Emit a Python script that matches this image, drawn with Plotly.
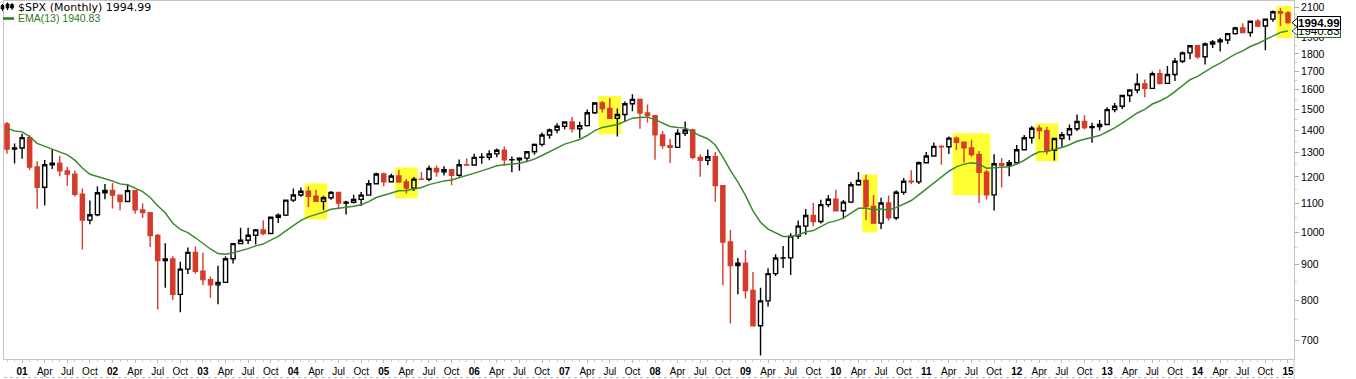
import numpy as np
import pandas as pd
import plotly.graph_objects as go

# ---------------- data (SPX monthly, Nov 2000 - Jan 2015) ----------------
months = pd.date_range("2000-11-01", periods=171, freq="MS")

opens = [
    1429.4, 1315.2,
    1320.3, 1366.0, 1239.9, 1160.3, 1249.5, 1255.8, 1224.4, 1211.2, 1133.6, 1040.9, 1059.8, 1139.5,
    1148.1, 1130.2, 1106.7, 1147.4, 1076.9, 1067.1, 989.8, 911.6, 916.1, 815.3, 885.8, 936.3,
    879.8, 855.7, 841.2, 848.2, 916.9, 963.6, 974.5, 990.3, 1008.0, 996.0, 1050.7, 1058.2,
    1112.0, 1131.1, 1144.9, 1126.2, 1107.3, 1120.7, 1140.8, 1101.7, 1104.2, 1114.6, 1130.2, 1173.8,
    1211.9, 1181.3, 1203.6, 1180.6, 1156.9, 1191.5, 1191.3, 1234.2, 1220.3, 1228.8, 1207.0, 1249.5,
    1248.3, 1280.1, 1280.7, 1294.9, 1310.6, 1270.1, 1270.2, 1276.7, 1303.8, 1335.9, 1377.9, 1400.6,
    1418.3, 1438.2, 1406.8, 1420.9, 1482.4, 1530.6, 1503.4, 1455.3, 1474.0, 1526.8, 1549.4, 1481.1,
    1468.4, 1378.6, 1330.6, 1322.7, 1385.6, 1400.4, 1280.0, 1267.4, 1282.8, 1166.4, 968.8, 896.2,
    903.3, 825.9, 735.1, 797.9, 872.8, 919.1, 919.3, 987.5, 1020.6, 1057.1, 1036.2, 1095.6,
    1115.1, 1073.9, 1104.5, 1169.4, 1186.7, 1089.4, 1030.7, 1101.6, 1049.3, 1141.2, 1183.3, 1180.6,
    1257.6, 1286.1, 1327.2, 1325.8, 1363.6, 1345.2, 1320.6, 1292.3, 1219.0, 1131.4, 1253.3, 1247.0,
    1257.6, 1312.4, 1365.7, 1408.5, 1397.9, 1310.3, 1362.2, 1379.3, 1406.6, 1440.7, 1412.2, 1416.2,
    1426.2, 1498.1, 1514.7, 1569.2, 1597.6, 1630.7, 1606.3, 1685.7, 1633.0, 1681.6, 1756.5, 1805.8,
    1848.4, 1782.6, 1859.5, 1872.3, 1884.0, 1923.6, 1960.2, 1930.7, 2003.4, 1972.3, 2018.1, 2067.6,
    2058.9,
]
highs = [
    1438.5, 1340.0,
    1383.4, 1376.4, 1263.5, 1269.3, 1316.0, 1286.6, 1239.8, 1226.3, 1155.4, 1110.6, 1163.4, 1173.0,
    1176.6, 1130.2, 1173.0, 1147.8, 1099.3, 1070.0, 994.5, 965.0, 924.0, 907.4, 951.0, 954.3,
    935.1, 864.6, 895.9, 924.2, 965.4, 1015.3, 1015.4, 1011.0, 1040.3, 1053.8, 1063.7, 1112.6,
    1155.4, 1159.0, 1163.2, 1150.6, 1127.7, 1146.3, 1140.8, 1109.7, 1131.5, 1142.1, 1188.5, 1217.3,
    1217.8, 1212.4, 1229.1, 1191.9, 1199.6, 1219.6, 1246.6, 1245.9, 1243.1, 1233.3, 1270.6, 1275.8,
    1294.9, 1297.6, 1310.9, 1318.2, 1326.7, 1284.0, 1280.4, 1306.7, 1340.3, 1389.5, 1407.9, 1431.8,
    1441.6, 1461.6, 1438.9, 1498.0, 1535.6, 1540.6, 1555.9, 1503.9, 1538.7, 1576.1, 1552.8, 1523.6,
    1471.8, 1396.0, 1359.7, 1404.6, 1440.2, 1406.3, 1292.2, 1313.2, 1303.0, 1167.0, 1007.5, 918.9,
    943.9, 877.9, 833.0, 888.7, 930.2, 956.2, 996.7, 1039.5, 1080.2, 1101.4, 1113.7, 1130.4,
    1150.5, 1112.4, 1180.2, 1219.8, 1208.9, 1131.2, 1121.0, 1129.2, 1148.9, 1196.1, 1227.1, 1262.6,
    1302.7, 1344.1, 1332.3, 1370.6, 1370.6, 1345.2, 1356.5, 1307.4, 1229.3, 1292.7, 1277.6, 1269.4,
    1333.5, 1378.0, 1419.2, 1422.4, 1415.3, 1363.5, 1391.7, 1426.7, 1474.5, 1471.0, 1434.3, 1448.0,
    1509.9, 1530.9, 1570.3, 1597.6, 1687.2, 1654.2, 1698.8, 1709.7, 1729.9, 1775.2, 1813.6, 1849.4,
    1850.8, 1867.9, 1884.0, 1897.3, 1924.0, 1968.2, 1991.4, 2005.0, 2019.3, 2018.2, 2075.8, 2093.6,
    2072.4,
]
lows = [
    1294.9, 1254.1,
    1274.6, 1228.3, 1081.2, 1092.0, 1232.0, 1203.0, 1165.5, 1124.9, 944.8, 1026.8, 1054.3, 1114.9,
    1081.7, 1074.4, 1106.7, 1063.5, 1048.0, 952.9, 775.7, 833.4, 800.2, 768.6, 872.1, 872.6,
    840.3, 806.3, 788.9, 847.9, 902.8, 963.6, 962.1, 960.8, 990.4, 996.0, 1031.2, 1055.0,
    1105.1, 1124.4, 1087.2, 1105.0, 1076.3, 1113.3, 1078.8, 1060.7, 1099.2, 1090.2, 1127.6, 1173.8,
    1163.8, 1180.0, 1176.9, 1136.2, 1146.2, 1188.3, 1183.6, 1201.1, 1205.4, 1168.2, 1201.1, 1246.6,
    1245.7, 1253.6, 1268.4, 1280.7, 1245.3, 1219.3, 1224.5, 1261.3, 1290.9, 1327.1, 1361.0, 1385.9,
    1404.0, 1389.4, 1364.0, 1416.4, 1476.7, 1484.2, 1454.3, 1370.6, 1439.5, 1489.6, 1406.1, 1435.6,
    1270.1, 1316.8, 1257.0, 1320.0, 1373.1, 1272.0, 1200.4, 1247.5, 1106.4, 839.8, 741.0, 815.7,
    804.2, 734.5, 666.8, 783.3, 866.1, 888.9, 869.3, 978.5, 992.0, 1020.0, 1029.4, 1085.9,
    1071.6, 1044.5, 1101.0, 1166.0, 1040.8, 1028.3, 1010.9, 1039.7, 1041.2, 1131.9, 1173.0, 1173.0,
    1257.6, 1282.9, 1249.1, 1294.7, 1311.8, 1258.1, 1282.9, 1101.5, 1114.2, 1074.8, 1158.7, 1202.4,
    1257.6, 1312.4, 1340.0, 1357.4, 1292.0, 1266.7, 1325.4, 1354.7, 1396.6, 1403.3, 1343.4, 1398.1,
    1426.2, 1485.0, 1501.5, 1536.0, 1581.3, 1560.3, 1604.6, 1627.5, 1633.0, 1646.5, 1746.2, 1768.0,
    1770.5, 1737.9, 1834.4, 1814.4, 1859.8, 1916.0, 1930.7, 1904.8, 1964.0, 1820.7, 2001.0, 1972.6,
    1988.1,
]
closes = [
    1315.2, 1320.3,
    1366.0, 1239.9, 1160.3, 1249.5, 1255.8, 1224.4, 1211.2, 1133.6, 1040.9, 1059.8, 1139.5, 1148.1,
    1130.2, 1106.7, 1147.4, 1076.9, 1067.1, 989.8, 911.6, 916.1, 815.3, 885.8, 936.3, 879.8,
    855.7, 841.2, 848.2, 916.9, 963.6, 974.5, 990.3, 1008.0, 996.0, 1050.7, 1058.2, 1112.0,
    1131.1, 1144.9, 1126.2, 1107.3, 1120.7, 1140.8, 1101.7, 1104.2, 1114.6, 1130.2, 1173.8, 1211.9,
    1181.3, 1203.6, 1180.6, 1156.9, 1191.5, 1191.3, 1234.2, 1220.3, 1228.8, 1207.0, 1249.5, 1248.3,
    1280.1, 1280.7, 1294.9, 1310.6, 1270.1, 1270.2, 1276.7, 1303.8, 1335.9, 1377.9, 1400.6, 1418.3,
    1438.2, 1406.8, 1420.9, 1482.4, 1530.6, 1503.4, 1455.3, 1474.0, 1526.8, 1549.4, 1481.1, 1468.4,
    1378.6, 1330.6, 1322.7, 1385.6, 1400.4, 1280.0, 1267.4, 1282.8, 1166.4, 968.8, 896.2, 903.3,
    825.9, 735.1, 797.9, 872.8, 919.1, 919.3, 987.5, 1020.6, 1057.1, 1036.2, 1095.6, 1115.1,
    1073.9, 1104.5, 1169.4, 1186.7, 1089.4, 1030.7, 1101.6, 1049.3, 1141.2, 1183.3, 1180.6, 1257.6,
    1286.1, 1327.2, 1325.8, 1363.6, 1345.2, 1320.6, 1292.3, 1219.0, 1131.4, 1253.3, 1247.0, 1257.6,
    1312.4, 1365.7, 1408.5, 1397.9, 1310.3, 1362.2, 1379.3, 1406.6, 1440.7, 1412.2, 1416.2, 1426.2,
    1498.1, 1514.7, 1569.2, 1597.6, 1630.7, 1606.3, 1685.7, 1633.0, 1681.6, 1756.5, 1805.8, 1848.4,
    1782.6, 1859.5, 1872.3, 1884.0, 1923.6, 1960.2, 1930.7, 2003.4, 1972.3, 2018.1, 2067.6, 2058.9,
    1994.99,
]

EMA_PERIOD = 13
EMA_SEED = 1425.0          # EMA level just before the first bar
LAST_CLOSE_TXT = "1994.99"
LAST_EMA_TXT = "1940.83"

y_ticks = [700, 800, 900, 1000, 1100, 1200, 1300, 1400, 1500, 1600, 1700, 1800, 1900, 2000, 2100]
month_abbr = {1: None, 4: "Apr", 7: "Jul", 10: "Oct"}

# highlighted periods: (first month, last month, low, high)
highlights = [
    ("2004-03", "2004-05", 1043, 1175),
    ("2005-03", "2005-05", 1118, 1239),
    ("2007-06", "2007-08", 1381, 1566),
    ("2010-05", "2010-06", 1000, 1210),
    ("2011-05", "2011-09", 1130, 1386),
    ("2012-04", "2012-06", 1264, 1432),
    ("2014-12", "2015-01", 1896, 2107),
]

# ---------------- derived ----------------
k = 2.0 / (EMA_PERIOD + 1)
ema = []
prev = EMA_SEED
for c in closes:
    prev = prev + k * (c - prev)
    ema.append(prev)

x = list(range(len(months)))
idx = {m.strftime("%Y-%m"): i for i, m in enumerate(months)}

tickvals, ticktext = [], []
for i, m in enumerate(months):
    if m.month in month_abbr:
        tickvals.append(i)
        ticktext.append(f"<b>{m.strftime('%y')}</b>" if m.month == 1 else month_abbr[m.month])

# ---------------- figure geometry ----------------
W, H = 1356, 379
ML, MR, MT, MB = 4, 62, 1, 20
PW, PH = W - ML - MR, H - MT - MB
Y_LO, Y_HI = 659.0, 2142.0
X_LO, X_HI = -0.4, 170.8

def xp(px):
    return (px - ML) / PW

def yp(py):
    return (H - MB - py) / PH

def yprice(p):
    return (np.log10(p) - np.log10(Y_LO)) / (np.log10(Y_HI) - np.log10(Y_LO))

RED = "#d63b2c"
GREEN = "#3a8a2e"

fig = go.Figure()

for s, e, lo, hi in highlights:
    fig.add_shape(type="rect", xref="x", yref="y",
                  x0=idx[s] - 0.5, x1=min(idx[e] + 0.5, X_HI), y0=lo, y1=hi,
                  fillcolor="#ffff33", line_width=0, layer="below")

fig.add_trace(go.Candlestick(
    x=x, open=opens, high=highs, low=lows, close=closes,
    increasing=dict(line=dict(color="#000000", width=1.4), fillcolor="rgba(0,0,0,0)"),
    decreasing=dict(line=dict(color=RED, width=1.4), fillcolor=RED),
    whiskerwidth=0, showlegend=False, hoverinfo="skip",
))

fig.add_trace(go.Scatter(x=x, y=ema, mode="lines",
                         line=dict(color=GREEN, width=1.5),
                         showlegend=False, hoverinfo="skip"))

fig.update_layout(
    width=W, height=H,
    margin=dict(l=ML, r=MR, t=MT, b=MB, pad=0),
    paper_bgcolor="white", plot_bgcolor="white",
    boxgap=0.22,
    showlegend=False,
    hovermode=False,
    xaxis=dict(
        range=[X_LO, X_HI], rangeslider=dict(visible=False),
        tickmode="array", tickvals=tickvals, ticktext=ticktext,
        ticks="outside", ticklen=3, tickcolor="#bbbbbb", tickwidth=1,
        minor=dict(tickmode="linear", tick0=0, dtick=1, ticks="outside",
                   ticklen=2, tickcolor="#cccccc"),
        showline=True, linecolor="#c4c4c4", linewidth=1, mirror=True,
        showgrid=False, zeroline=False,
        tickfont=dict(family="Liberation Sans, Arial", size=10, color="#000000"),
    ),
    yaxis=dict(
        type="log", side="right",
        range=[np.log10(Y_LO), np.log10(Y_HI)],
        tickmode="array", tickvals=y_ticks, ticktext=[str(v) for v in y_ticks],
        ticks="outside", ticklen=4, tickcolor="#aaaaaa", tickwidth=1,
        minor=dict(tickmode="array", tickvals=[v + 50 for v in y_ticks[:-1]],
                   ticks="outside", ticklen=2, tickcolor="#cccccc"),
        showline=True, linecolor="#c4c4c4", linewidth=1, mirror=True,
        showgrid=False, zeroline=False,
        tickfont=dict(family="Liberation Sans, Arial", size=10.5, color="#000000"),
    ),
)

# bottom date strip border
fig.add_shape(type="line", xref="paper", yref="paper", x0=0, x1=1,
              y0=yp(377.5), y1=yp(377.5), line=dict(color="#bbbbbb", width=1, dash="dot"))
fig.add_shape(type="line", xref="paper", yref="paper", x0=1, x1=1,
              y0=0, y1=yp(379), line=dict(color="#c4c4c4", width=1))

# legend: icon + title
icon = [(2.5, 4, 11, 5.5, 9), (7.5, 2.5, 10, 4, 8), (12, 3, 10, 4.5, 8)]
for cx, wt, wb, bt, bb in icon:
    fig.add_shape(type="line", xref="paper", yref="paper", x0=xp(cx), x1=xp(cx),
                  y0=yp(wt), y1=yp(wb), line=dict(color="#000000", width=1))
    fig.add_shape(type="rect", xref="paper", yref="paper", x0=xp(cx - 1.3), x1=xp(cx + 1.3),
                  y0=yp(bt), y1=yp(bb), line=dict(color="#000000", width=1), fillcolor="#000000")
fig.add_annotation(xref="paper", yref="paper", x=xp(16), y=yp(7.5), xanchor="left", yanchor="middle",
                   text=f"$SPX (Monthly) {LAST_CLOSE_TXT}", showarrow=False,
                   font=dict(family="DejaVu Sans, Verdana", size=11, color="#000000"))
fig.add_shape(type="line", xref="paper", yref="paper", x0=xp(3), x1=xp(14),
              y0=yp(18.5), y1=yp(18.5), line=dict(color="#2e7a22", width=2.5))
fig.add_annotation(xref="paper", yref="paper", x=xp(16), y=yp(18.5), xanchor="left", yanchor="middle",
                   text=f"EMA({EMA_PERIOD}) {LAST_EMA_TXT}", showarrow=False,
                   font=dict(family="Liberation Sans, Arial", size=10.5, color="#2e7a22"))

# price tags on the right axis
def tag(price, text, border, bold):
    y0 = yprice(price)
    fig.add_annotation(xref="paper", yref="paper", x=xp(1297), y=y0,
                       xanchor="left", yanchor="middle", showarrow=False,
                       text=f"<b>{text}</b>" if bold else text,
                       font=dict(family="Liberation Sans, Arial", size=11.5, color="#000000"),
                       bgcolor="#ffffff", bordercolor=border, borderwidth=1, borderpad=0)
    dy = 4.5 / PH
    fig.add_shape(type="path", xref="paper", yref="paper",
                  path=f"M {xp(1292)},{y0} L {xp(1297.5)},{y0 + dy} L {xp(1297.5)},{y0 - dy} Z",
                  fillcolor="#ffffff", line=dict(color=border, width=1))

tag(1940.83, LAST_EMA_TXT, "#2e6b1e", False)
tag(1994.99, LAST_CLOSE_TXT, "#000000", True)

fig.write_html(
    "out.html",
    config={"displayModeBar": False, "staticPlot": True},
    post_script="document.body.style.margin='0';document.body.style.padding='0';"
                "document.body.style.overflow='hidden';",
)
